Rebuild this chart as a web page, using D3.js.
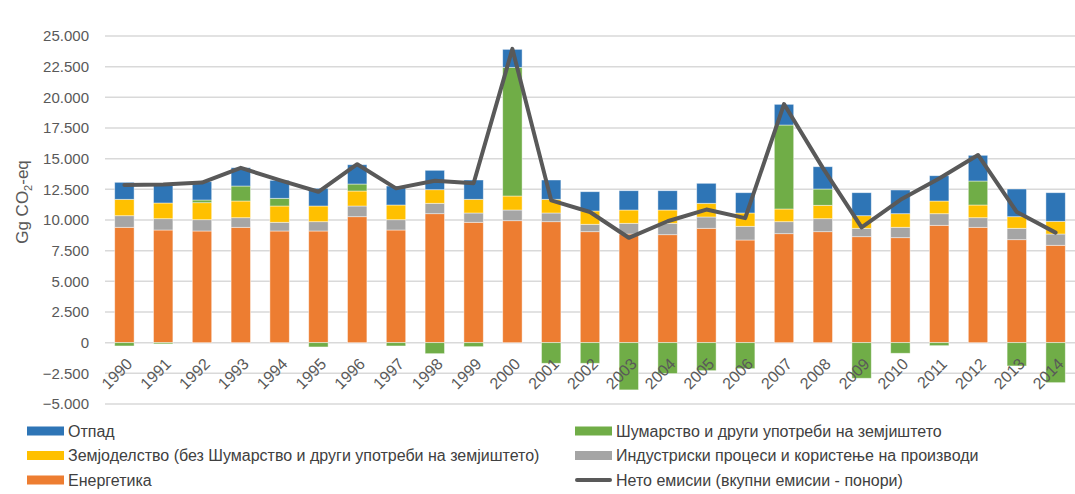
<!DOCTYPE html>
<html lang="mk">
<head>
    <meta charset="UTF-8">
    <title>Емисии</title>
    <script src="https://cdn.jsdelivr.net/npm/d3@7"></script>
</head>
<style>
    body { margin: 0; background: #fff; }
    svg { display: block; font-family: "Liberation Sans", Arial, sans-serif; }
</style>
<body>
</body>
</html>
<script>

    // податоци (Gg CO2-eq), прочитани од графиконот
    var years = ["1990","1991","1992","1993","1994","1995","1996","1997","1998","1999","2000","2001","2002",
                 "2003","2004","2005","2006","2007","2008","2009","2010","2011","2012","2013","2014"];
    var energy   = [9405,9185,9104,9405,9104,9104,10269,9185,10514,9813,9943,9862,9047,
                    8859,8802,9324,8370,8884,9047,8639,8558,9568,9405,8395,7938];
    var industry = [945,921,921,782,709,758,872,839,848,758,872,709,603,
                    872,929,921,1117,978,1060,685,848,945,782,929,921];
    var agri     = [1337,1280,1386,1361,1328,1280,1222,1198,1108,1117,1141,1117,1084,
                    1084,1084,1117,1084,1035,1092,1027,1108,1035,1035,945,1035];
    var forestry = [-270,-100,220,1222,628,-350,570,-270,-897,-326,10489,-1679,-1679,
                    -3850,-2520,-2282,-2119,6846,1328,-2901,-864,-245,1956,-1899,-3260];
    var waste    = [1386,1606,1492,1492,1467,1443,1573,1548,1581,1573,1467,1573,1573,
                    1573,1573,1630,1654,1687,1817,1875,1931,2062,2095,2258,2331];
    var net      = [12850,12900,13050,14250,13250,12300,14550,12580,13200,13000,23950,11600,10650,
                    8550,9900,10850,10150,19450,14250,9400,11650,13380,15300,10650,8970];
    var yTicks = [-5000,-2500,0,2500,5000,7500,10000,12500,15000,17500,20000,22500,25000];

    var series = [
        {key: "energy",   name: "Енергетика", color: "#ED7D31", values: energy},
        {key: "industry", name: "Индустриски процеси и користење на производи", color: "#A5A5A5", values: industry},
        {key: "agri",     name: "Земјоделство (без Шумарство и други употреби на земјиштето)", color: "#FFC000", values: agri},
        {key: "forestry", name: "Шумарство и други употреби на земјиштето", color: "#70AD47", values: forestry},
        {key: "waste",    name: "Отпад", color: "#2E75B6", values: waste}
    ];

    var w = 1075, h = 494;
    var plotL = 105, plotR = 1075, plotT = 36, plotB = 404;

    var table = years.map(function (yr, i) {
        var row = {year: yr};
        series.forEach(function (s) { row[s.key] = s.values[i]; });
        return row;
    });

    var stack = d3.stack()
            .keys(series.map(function (s) { return s.key; }))
            .offset(d3.stackOffsetDiverging);
    var stacked = stack(table);

    var x = d3.scaleBand().domain(years).range([plotL, plotR]).paddingInner(0.5).paddingOuter(0.25);
    var y = d3.scaleLinear().domain([-5000, 25000]).range([plotB, plotT]);

    var fmt = d3.formatLocale({decimal: ",", thousands: ".", grouping: [3], currency: ["", ""]}).format(",.0f");

    var svg = d3.select("body")
            .append("svg")
            .attr("width", w)
            .attr("height", h);

    // мрежа
    svg.append("g")
            .selectAll("line")
            .data(yTicks)
            .enter()
            .append("line")
            .attr("x1", plotL)
            .attr("x2", plotR)
            .attr("y1", function (d) { return y(d); })
            .attr("y2", function (d) { return y(d); })
            .attr("stroke", "#d9d9d9")
            .attr("stroke-width", 1.5);

    // y оска
    var yAxis = svg.append("g")
            .attr("transform", "translate(" + plotL + ",0)")
            .call(d3.axisLeft(y).tickValues(yTicks).tickFormat(fmt).tickSize(0).tickPadding(16));
    yAxis.select(".domain").remove();
    yAxis.selectAll("text")
            .attr("font-size", "15px")
            .attr("font-family", "Liberation Sans, Arial, sans-serif")
            .attr("fill", "#595959");

    // столбови
    svg.append("g")
            .selectAll("g")
            .data(stacked)
            .enter()
            .append("g")
            .attr("fill", function (d, i) { return series[i].color; })
            .selectAll("rect")
            .data(function (d) { return d; })
            .enter()
            .append("rect")
            .attr("x", function (d) { return x(d.data.year); })
            .attr("y", function (d) { return y(Math.max(d[0], d[1])); })
            .attr("width", x.bandwidth())
            .attr("height", function (d) { return Math.abs(y(d[0]) - y(d[1])); })
            .attr("stroke", "#ffffff")
            .attr("stroke-opacity", 0.55)
            .attr("stroke-width", 0.8);

    // нето емисии
    var line = d3.line()
            .x(function (d, i) { return x(years[i]) + x.bandwidth() / 2; })
            .y(function (d) { return y(d); });
    svg.append("path")
            .datum(net)
            .attr("d", line)
            .attr("fill", "none")
            .attr("stroke", "#595959")
            .attr("stroke-width", 4)
            .attr("stroke-linejoin", "round")
            .attr("stroke-linecap", "round");

    // x оска (ротирани ознаки)
    svg.append("g")
            .selectAll("text")
            .data(years)
            .enter()
            .append("text")
            .text(function (d) { return d; })
            .attr("transform", function (d) {
                return "translate(" + (x(d) + x.bandwidth() / 2 + 5) + "," + 361 + ") rotate(-45)";
            })
            .attr("text-anchor", "end")
            .attr("dy", "0.35em")
            .attr("font-size", "16px")
            .attr("fill", "#595959");

    // наслов на y оска
    var yt = svg.append("text")
            .attr("transform", "translate(28,202) rotate(-90)")
            .attr("text-anchor", "middle")
            .attr("font-size", "17px")
            .attr("fill", "#595959");
    yt.append("tspan").text("Gg CO");
    yt.append("tspan").text("2").attr("font-size", "11px").attr("dy", "4");
    yt.append("tspan").text("-eq").attr("dy", "-4");

    // легенда
    var legend = [
        {name: "Отпад", color: "#2E75B6", col: 0, row: 0},
        {name: "Шумарство и други употреби на земјиштето", color: "#70AD47", col: 1, row: 0},
        {name: "Земјоделство (без Шумарство и други употреби на земјиштето)", color: "#FFC000", col: 0, row: 1},
        {name: "Индустриски процеси и користење на производи", color: "#A5A5A5", col: 1, row: 1},
        {name: "Енергетика", color: "#ED7D31", col: 0, row: 2},
        {name: "Нето емисии (вкупни емисии - понори)", color: "#595959", col: 1, row: 2, line: true}
    ];
    var lg = svg.append("g")
            .selectAll("g")
            .data(legend)
            .enter()
            .append("g")
            .attr("transform", function (d) {
                return "translate(" + (d.col ? 575 : 27) + "," + (431 + d.row * 24.5) + ")";
            });
    lg.filter(function (d) { return !d.line; })
            .append("rect")
            .attr("x", 0).attr("y", -4.5)
            .attr("width", 37).attr("height", 9)
            .attr("fill", function (d) { return d.color; });
    lg.filter(function (d) { return d.line; })
            .append("line")
            .attr("x1", 2).attr("x2", 35)
            .attr("stroke", function (d) { return d.color; })
            .attr("stroke-width", 4)
            .attr("stroke-linecap", "round");
    lg.append("text")
            .attr("x", 41)
            .attr("dy", "0.35em")
            .attr("font-size", "16px")
            .attr("fill", "#404040")
            .text(function (d) { return d.name; });
</script>
